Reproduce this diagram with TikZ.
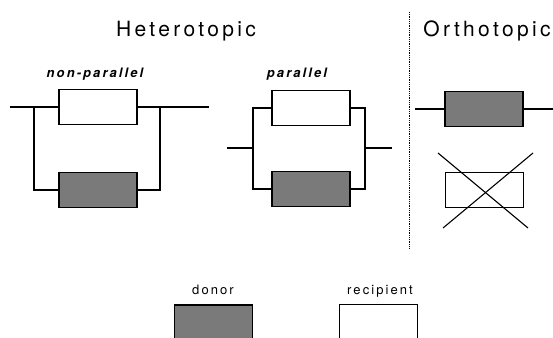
\documentclass[tikz,border=0pt]{standalone}
\usepackage{fontspec}
\setmainfont{TeX Gyre Heros}
\newfontfamily\spacedfont[LetterSpace=16]{TeX Gyre Heros}
\usepackage{tikz}
\usetikzlibrary{positioning}

\begin{document}
\begin{tikzpicture}[x=1pt, y=-1pt, line width=1.1pt]
\tikzset{BoxStyle/.style = {shape=rectangle, draw, inner sep=0, minimum width=78pt, minimum height=35pt}}
\tikzset{DonorStyle/.style = {BoxStyle, fill=black!52}}
\tikzset{RecipientStyle/.style = {BoxStyle, fill=white}}
\tikzset{TitleStyle/.style = {inner sep=0, anchor=base, font=\spacedfont\fontsize{21}{25}\selectfont}}
\tikzset{LabelStyle/.style = {inner sep=0, anchor=base, font=\spacedfont\fontsize{13}{15}\selectfont}}
  \useasboundingbox (0,0) rectangle (553,337);
  % titles
  \node[TitleStyle] (hetero) at (186,37) {Heterotopic};
  \node[TitleStyle] (ortho) at (487,37) {Orthotopic};
  \draw[densely dotted, line width=0.8pt] (409,12) -- (409,248);
  % non-parallel
  \node[LabelStyle, font=\spacedfont\fontsize{13}{15}\selectfont\bfseries\itshape] (np-lab) at (95,77) {non-parallel};
  \node[RecipientStyle] (np-rec) at (98,107) {};
  \node[DonorStyle] (np-don) at (98,190) {};
  \coordinate (np-in) at (10,107);
  \coordinate (np-out) at (209,107);
  \coordinate (np-l) at (34,107);
  \coordinate (np-r) at (160,107);
  \draw (np-in) -- (np-rec.west);
  \draw (np-rec.east) -- (np-out);
  \draw (np-l) |- (np-don.west);
  \draw (np-r) |- (np-don.east);
  % parallel
  \node[LabelStyle, font=\spacedfont\fontsize{13}{15}\selectfont\bfseries\itshape] (p-lab) at (297,77) {parallel};
  \node[RecipientStyle] (p-rec) at (311,108) {};
  \node[DonorStyle] (p-don) at (311,189) {};
  \coordinate (p-in) at (227,148);
  \coordinate (p-out) at (392,148);
  \coordinate (p-l) at (253,148);
  \coordinate (p-r) at (365,148);
  \draw (p-rec.west) -| (p-l) |- (p-don.west);
  \draw (p-rec.east) -| (p-r) |- (p-don.east);
  \draw (p-in) -- (p-l);
  \draw (p-r) -- (p-out);
  % orthotopic
  \node[DonorStyle] (o-don) at (484,109) {};
  \node[RecipientStyle, line width=0.8pt] (o-rec) at (484,190) {};
  \coordinate (o-in) at (415,109);
  \coordinate (o-out) at (553,109);
  \draw (o-in) -- (o-don.west);
  \draw (o-don.east) -- (o-out);
  \draw (o-rec.center) ++(-46,-37) -- ++(90,75);
  \draw (o-rec.center) ++(49,-37) -- ++(-90,75);
  % legend
  \node[LabelStyle] (don-lab) at (213,294) {donor};
  \node[LabelStyle] (rec-lab) at (380,294) {recipient};
  \node[DonorStyle] (don-key) at (213.5,322.5) {};
  \node[RecipientStyle] (rec-key) at (378.5,322) {};
\end{tikzpicture}
\end{document}
